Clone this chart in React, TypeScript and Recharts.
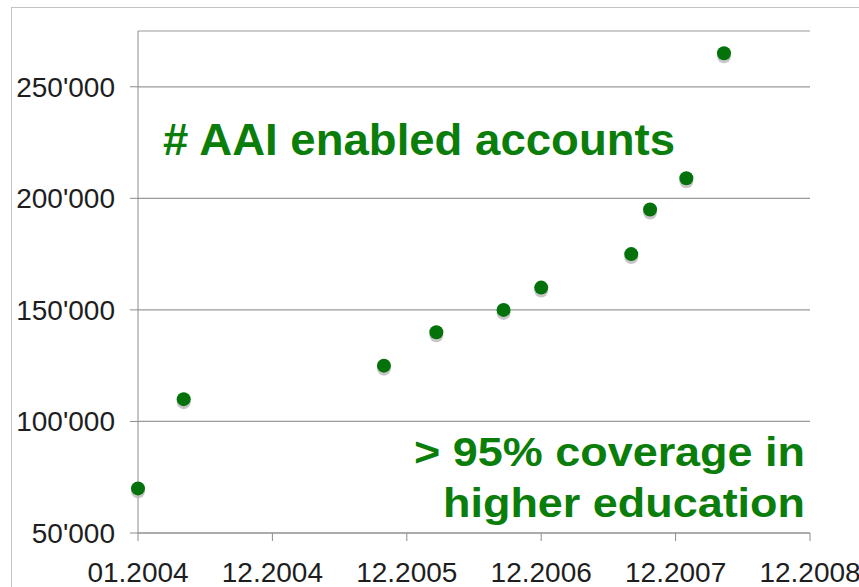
import { ScatterChart, Scatter, XAxis, YAxis, CartesianGrid } from 'recharts'

// x position in "tick units": 0 = 01.2004, 1 = 12.2004, ... 5 = 12.2008
const xLabels = ['01.2004', '12.2004', '12.2005', '12.2006', '12.2007', '12.2008']
const xPos = [0, 0.34, 1.83, 2.22, 2.72, 3.0, 3.67, 3.81, 4.08, 4.36]
const accounts = [70000, 110000, 125000, 140000, 150000, 160000, 175000, 195000, 209000, 265000]
const yTicks = [50000, 100000, 150000, 200000, 250000]

const points = xPos.map((x, i) => ({ x, y: accounts[i] }))

const GREEN = '#0a7d0a'
const DOT = '#03720a'
const AXIS = '#8c8c8c'
const FONT = '"Liberation Sans", Arial, sans-serif'

const fmtY = (v: number) => `${Math.floor(v / 1000)}'${String(v % 1000).padStart(3, '0')}`

const Dot = (p: any) => {
  const { cx, cy } = p
  if (cx == null || cy == null) return null
  return (
    <g>
      <ellipse cx={cx} cy={cy + 3} rx={7} ry={7} fill="#b8b8b8" opacity={0.8} />
      <circle cx={cx} cy={cy} r={7} fill={DOT} />
    </g>
  )
}

export default function App() {
  return (
    <div style={{ position: 'absolute', left: 0, top: 0, width: 859, height: 587, background: '#fff', overflow: 'hidden' }}>
      {/* outer frame */}
      <div style={{ position: 'absolute', left: 11, top: 7, width: 900, height: 700, border: '1px solid #c4c4c4' }} />
      <ScatterChart width={859} height={587} margin={{ top: 31, right: 49, bottom: 0, left: 0 }}>
        <CartesianGrid vertical={false} stroke="#9a9a9a" strokeWidth={1.2} />
        <XAxis
          type="number" dataKey="x" domain={[0, 5]} ticks={[0, 1, 2, 3, 4, 5]}
          tickFormatter={(v: number) => xLabels[v] ?? ''}
          height={54} tickSize={8} tickMargin={21} interval={0}
          stroke={AXIS} tick={{ fontSize: 28, fill: '#1e1e1e', fontFamily: FONT }}
        />
        <YAxis
          type="number" dataKey="y" domain={[50000, 275000]} ticks={yTicks}
          tickFormatter={fmtY} width={138} tickSize={8} tickMargin={15}
          stroke={AXIS} tick={{ fontSize: 28, fill: '#1e1e1e', fontFamily: FONT }}
        />
        <Scatter data={points} shape={Dot} isAnimationActive={false} />
      </ScatterChart>
      <svg width={859} height={587} style={{ position: 'absolute', left: 0, top: 0, pointerEvents: 'none' }}>
        <text x={163} y={155} fontSize={45} fontWeight="bold" fill={GREEN} fontFamily={FONT} textLength={512} lengthAdjust="spacingAndGlyphs">
          # AAI enabled accounts
        </text>
        <text x={805} y={466} textAnchor="end" fontSize={40} fontWeight="bold" fill={GREEN} fontFamily={FONT} textLength={391} lengthAdjust="spacingAndGlyphs">
          {'> 95% coverage in'}
        </text>
        <text x={805} y={517} textAnchor="end" fontSize={40} fontWeight="bold" fill={GREEN} fontFamily={FONT} textLength={362} lengthAdjust="spacingAndGlyphs">
          higher education
        </text>
      </svg>
    </div>
  )
}
